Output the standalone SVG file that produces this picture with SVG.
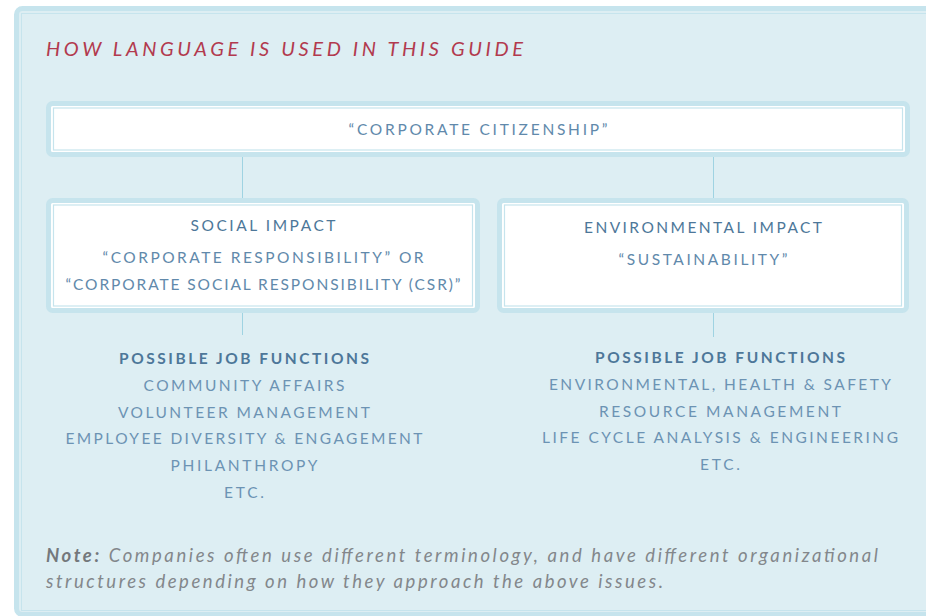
<svg xmlns="http://www.w3.org/2000/svg" width="926" height="616" viewBox="0 0 926 616">
<style>
.frame{fill:#ddeef3;stroke:#c6e4ed;stroke-width:5}
.thin{fill:none;stroke:#c6e4ed;stroke-width:1}
.box{fill:#ffffff;stroke:#c6e4ed;stroke-width:5}
.inner{fill:none;stroke:#c6e4ed;stroke-width:1.2}
.conn{stroke:#9fd3e2;stroke-width:1;fill:none}
text{font-family:Lato,"Liberation Sans",sans-serif}
.title{font-size:20px;font-style:italic;fill:#b23a4e}
.lbl{font-size:15.5px;fill:#6189ab;text-anchor:middle}
.head{font-size:15.5px;fill:#4d7799;text-anchor:middle}
.job{font-size:15.5px;fill:#4d7799;font-weight:bold;text-anchor:middle}
.item{font-size:15.5px;fill:#6c93b3;text-anchor:middle}
.note{font-size:18.5px;font-style:italic;fill:#83878b}
</style>
<rect width="926" height="616" fill="#ffffff"/>
<rect class="frame" x="16.5" y="8.5" width="960" height="606" rx="6"/>
<rect class="thin" x="21.5" y="13.5" width="960" height="597"/>
<text class="title" x="46" y="56" textLength="477" lengthAdjust="spacing">HOW LANGUAGE IS USED IN THIS GUIDE</text>
<g id="connectors">
<line class="conn" x1="242.5" y1="157" x2="242.5" y2="198"/>
<line class="conn" x1="713.5" y1="157" x2="713.5" y2="198"/>
<line class="conn" x1="242.5" y1="313" x2="242.5" y2="335"/>
<line class="conn" x1="713.5" y1="313" x2="713.5" y2="337"/>
</g>
<g id="corporate-citizenship">
<rect class="box" x="48.5" y="103.5" width="859" height="51" rx="4"/>
<rect class="inner" x="53.5" y="108" width="849" height="42"/>
<text class="lbl" x="478" y="135" textLength="259" lengthAdjust="spacing">“CORPORATE CITIZENSHIP”</text>
</g>
<g id="social-impact">
<rect class="box" x="48.5" y="200.5" width="429" height="110" rx="4"/>
<rect class="inner" x="53.5" y="205" width="419" height="101"/>
<text class="head" x="263" y="231" textLength="145" lengthAdjust="spacing">SOCIAL IMPACT</text>
<text class="lbl" x="263" y="263" textLength="321" lengthAdjust="spacing">“CORPORATE RESPONSIBILITY” OR</text>
<text class="lbl" x="263" y="290" textLength="395" lengthAdjust="spacing">“CORPORATE SOCIAL RESPONSIBILITY (CSR)”</text>
</g>
<g id="environmental-impact">
<rect class="box" x="499.5" y="200.5" width="407" height="110" rx="4"/>
<rect class="inner" x="504.5" y="205" width="397" height="101"/>
<text class="head" x="703" y="233" textLength="238" lengthAdjust="spacing">ENVIRONMENTAL IMPACT</text>
<text class="lbl" x="703" y="265" textLength="169" lengthAdjust="spacing">“SUSTAINABILITY”</text>
</g>
<g id="social-jobs">
<text class="job" x="244" y="364" textLength="250" lengthAdjust="spacing">POSSIBLE JOB FUNCTIONS</text>
<text class="item" x="244" y="391" textLength="201" lengthAdjust="spacing">COMMUNITY AFFAIRS</text>
<text class="item" x="244" y="418" textLength="252" lengthAdjust="spacing">VOLUNTEER MANAGEMENT</text>
<text class="item" x="244" y="444" textLength="357" lengthAdjust="spacing">EMPLOYEE DIVERSITY &amp; ENGAGEMENT</text>
<text class="item" x="244" y="471" textLength="147" lengthAdjust="spacing">PHILANTHROPY</text>
<text class="item" x="244" y="498" textLength="40" lengthAdjust="spacing">ETC.</text>
</g>
<g id="environmental-jobs">
<text class="job" x="720" y="363" textLength="250" lengthAdjust="spacing">POSSIBLE JOB FUNCTIONS</text>
<text class="item" x="720" y="390" textLength="342" lengthAdjust="spacing">ENVIRONMENTAL, HEALTH &amp; SAFETY</text>
<text class="item" x="720" y="417" textLength="242" lengthAdjust="spacing">RESOURCE MANAGEMENT</text>
<text class="item" x="720" y="443" textLength="356" lengthAdjust="spacing">LIFE CYCLE ANALYSIS &amp; ENGINEERING</text>
<text class="item" x="720" y="470" textLength="40" lengthAdjust="spacing">ETC.</text>
</g>
<text class="note" x="46" y="562" textLength="832" lengthAdjust="spacing"><tspan font-weight="bold" font-style="italic" fill="#74787c">Note:</tspan> Companies often use different terminology, and have different organizational</text>
<text class="note" x="46" y="588" textLength="617" lengthAdjust="spacing">structures depending on how they approach the above issues.</text>
</svg>
